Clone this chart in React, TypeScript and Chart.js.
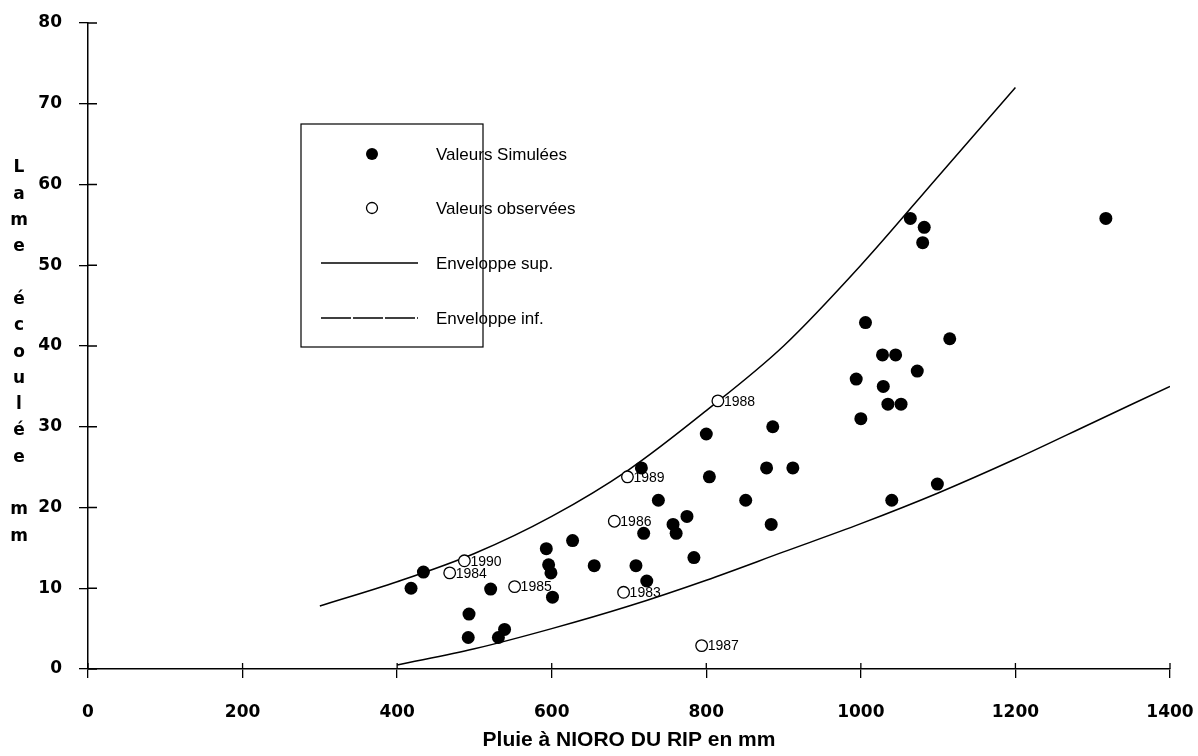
import React, { useEffect, useRef } from "react";
import { Chart, registerables } from "chart.js";

Chart.register(...registerables);

// Valeurs simulées (pluie mm, lame écoulée mm)
const simX = [418, 434, 493, 492, 521, 539, 531, 593, 596, 599, 601, 627, 655, 709, 716, 719, 723, 738, 757, 761, 775, 784, 800, 804, 851, 878, 884, 886, 912, 1064, 1082, 1080, 1317, 1006, 1115, 1028, 1045, 1073, 994, 1029, 1035, 1052, 1000, 1040, 1099];
const simY = [10, 12, 6.8, 3.9, 9.9, 4.9, 3.9, 14.9, 12.9, 11.9, 8.9, 15.9, 12.8, 12.8, 24.9, 16.8, 10.9, 20.9, 17.9, 16.8, 18.9, 13.8, 29.1, 23.8, 20.9, 24.9, 17.9, 30, 24.9, 55.8, 54.7, 52.8, 55.8, 42.9, 40.9, 38.9, 38.9, 36.9, 35.9, 35, 32.8, 32.8, 31, 20.9, 22.9];

// Valeurs observées
const obsX = [693, 468, 552, 681, 794, 815, 698, 487];
const obsY = [9.5, 11.9, 10.2, 18.3, 2.9, 33.2, 23.8, 13.4];
const obsYears = ["1983", "1984", "1985", "1986", "1987", "1988", "1989", "1990"];

// Enveloppes
const supX = [300, 400, 500, 600, 700, 800, 900, 1000, 1100, 1200];
const supY = [7.8, 10.8, 14.3, 18.9, 24.7, 32, 40, 50, 61, 72];
const infX = [400, 500, 600, 700, 800, 900, 1000, 1100, 1200, 1300, 1400];
const infY = [0.5, 2.5, 5, 7.8, 11, 14.5, 18, 21.8, 26, 30.5, 35];

const xTicks = [0, 200, 400, 600, 800, 1000, 1200, 1400];
const yTicks = [0, 10, 20, 30, 40, 50, 60, 70, 80];

const seriesLabels = ["Valeurs Simulées", "Valeurs observées", "Enveloppe sup.", "Enveloppe inf."];
const xTitle = "Pluie à NIORO DU RIP en mm";
const yTitle = "Lame écoulée mm";

const zip = (xs: number[], ys: number[]) => xs.map((x, i) => ({ x, y: ys[i] }));

const overlay = {
  id: "overlay",
  afterDraw(chart: any) {
    const ctx = chart.ctx as CanvasRenderingContext2D;
    const xs = chart.scales.x;
    const ys = chart.scales.y;
    const area = chart.chartArea;
    ctx.save();
    ctx.strokeStyle = "#000";
    ctx.fillStyle = "#000";
    ctx.lineWidth = 1.3;
    // inner parts of ticks
    ctx.beginPath();
    for (const v of yTicks) {
      const py = ys.getPixelForValue(v);
      ctx.moveTo(area.left, py);
      ctx.lineTo(area.left + 9, py);
    }
    for (const v of xTicks) {
      const px = xs.getPixelForValue(v);
      ctx.moveTo(px, area.bottom);
      ctx.lineTo(px, area.bottom - 6);
    }
    ctx.stroke();

    // year labels of observed points
    const meta = chart.getDatasetMeta(1);
    ctx.font = '14px "Liberation Sans"';
    ctx.textAlign = "left";
    ctx.textBaseline = "middle";
    meta.data.forEach((pt: any, i: number) => {
      ctx.fillText(obsYears[i], pt.x + 6, pt.y + 1);
    });

    // vertical y title (stacked letters)
    ctx.font = 'bold 17px "DejaVu Sans"';
    ctx.textAlign = "center";
    yTitle.split("").forEach((ch, i) => {
      if (ch !== " ") ctx.fillText(ch, 19, 168 + i * 26.3);
    });

    // legend
    const bx = 301, by = 124, bw = 182, bh = 223;
    ctx.lineWidth = 1.2;
    ctx.strokeRect(bx, by, bw, bh);
    const rows = [154, 208, 263, 318];
    ctx.font = '17px "Liberation Sans"';
    ctx.textAlign = "left";
    // filled dot
    ctx.beginPath();
    ctx.arc(372, rows[0], 6, 0, Math.PI * 2);
    ctx.fill();
    // open circle
    ctx.beginPath();
    ctx.arc(372, rows[1], 5.5, 0, Math.PI * 2);
    ctx.fillStyle = "#fff";
    ctx.fill();
    ctx.lineWidth = 1.3;
    ctx.stroke();
    ctx.fillStyle = "#000";
    // lines
    ctx.lineWidth = 1.3;
    ctx.beginPath();
    ctx.moveTo(321, rows[2]);
    ctx.lineTo(418, rows[2]);
    ctx.stroke();
    ctx.setLineDash([30, 2]);
    ctx.beginPath();
    ctx.moveTo(321, rows[3]);
    ctx.lineTo(418, rows[3]);
    ctx.stroke();
    ctx.setLineDash([]);
    seriesLabels.forEach((t, i) => ctx.fillText(t, 436, rows[i] + 1));
    ctx.restore();
  },
};

export default function App() {
  const ref = useRef<HTMLCanvasElement | null>(null);
  useEffect(() => {
    document.body.style.margin = "0";
    const canvas = ref.current!;
    const tickFont = { family: "DejaVu Sans", size: 17, weight: "bold" as const };
    const chart = new Chart(canvas, {
      type: "scatter",
      data: {
        datasets: [
          {
            label: seriesLabels[0],
            data: zip(simX, simY),
            pointRadius: 6.5,
            pointBackgroundColor: "#000",
            pointBorderWidth: 0,
            borderColor: "#000",
            showLine: false,
            order: 0,
          },
          {
            label: seriesLabels[1],
            data: zip(obsX, obsY),
            pointRadius: 5.8,
            pointBackgroundColor: "#fff",
            pointBorderColor: "#000",
            pointBorderWidth: 1.3,
            showLine: false,
            order: 0,
          },
          {
            label: seriesLabels[2],
            data: zip(supX, supY),
            showLine: true,
            pointRadius: 0,
            borderColor: "#000",
            borderWidth: 1.5,
            cubicInterpolationMode: "monotone",
            order: 2,
          },
          {
            label: seriesLabels[3],
            data: zip(infX, infY),
            showLine: true,
            pointRadius: 0,
            borderColor: "#000",
            borderWidth: 1.5,
            cubicInterpolationMode: "monotone",
            order: 2,
          },
        ],
      },
      options: {
        responsive: false,
        animation: false,
        layout: { padding: { top: 23, right: 28, left: 0, bottom: 0 } },
        plugins: { legend: { display: false }, tooltip: { enabled: false } },
        scales: {
          x: {
            type: "linear",
            min: 0,
            max: 1400,
            afterFit: (s: any) => {
              s.height = 87;
              s.paddingLeft = 0;
              s.paddingRight = 0;
            },
            afterBuildTicks: (s: any) => { s.ticks = xTicks.map((v) => ({ value: v })); },
            ticks: {
              color: "#000",
              font: tickFont,
              padding: 24,
              maxRotation: 0,
              callback: (v: any) => String(v),
            },
            grid: { drawOnChartArea: false, drawTicks: true, tickLength: 9, color: "#000", lineWidth: 1.3 },
            border: { display: true, color: "#000", width: 1.5 },
            title: {
              display: true,
              text: xTitle,
              color: "#000",
              font: { family: "Liberation Sans", size: 21, weight: "bold" },
              padding: { top: 0, bottom: 3 },
            },
          },
          y: {
            type: "linear",
            min: 0,
            max: 80,
            afterFit: (s: any) => {
              s.width = 88;
              s.paddingTop = 0;
              s.paddingBottom = 0;
            },
            afterBuildTicks: (s: any) => { s.ticks = yTicks.map((v) => ({ value: v })); },
            ticks: { color: "#000", font: tickFont, padding: 17, callback: (v: any) => String(v) },
            grid: { drawOnChartArea: false, drawTicks: true, tickLength: 9, color: "#000", lineWidth: 1.3 },
            border: { display: true, color: "#000", width: 1.5 },
          },
        },
      },
      plugins: [overlay],
    });
    return () => chart.destroy();
  }, []);
  return (
    <div style={{ width: 1198, height: 756, background: "#fff" }}>
      <canvas ref={ref} width={1198} height={756} style={{ display: "block" }} />
    </div>
  );
}
